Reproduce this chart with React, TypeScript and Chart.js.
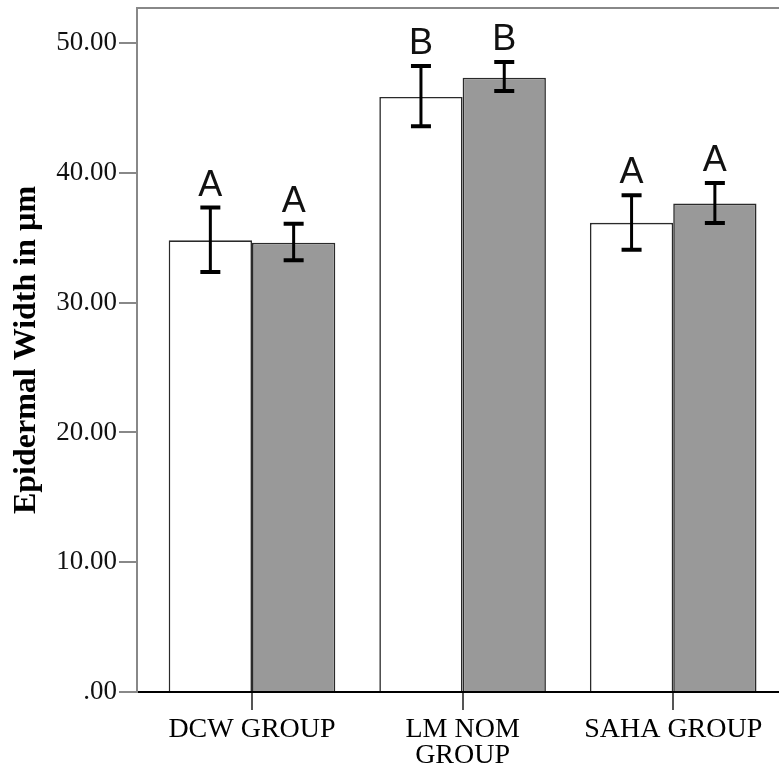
import { useEffect, useRef } from "react";
import { Chart, registerables } from "chart.js";

Chart.register(...registerables);

const categories: string[][] = [["DCW GROUP"], ["LM NOM", "GROUP"], ["SAHA GROUP"]];
const whiteMeans = [34.8, 45.85, 36.15];
const whiteLow = [32.36, 43.58, 34.08];
const whiteHigh = [37.32, 48.23, 38.27];
const grayMeans = [34.62, 47.33, 37.63];
const grayLow = [33.26, 46.3, 36.13];
const grayHigh = [36.08, 48.54, 39.21];
const whiteLetters = ["A", "B", "A"];
const grayLetters = ["A", "B", "A"];
const yTicks = [0, 10, 20, 30, 40, 50];
const yMax = 52.7;

const SERIF = "'Liberation Serif', 'Times New Roman', serif";

const errorPlugin = {
  id: "errorBarsAndLetters",
  afterDatasetsDraw(chart: any) {
    const ctx = chart.ctx;
    const y = chart.scales.y;
    const lows = [whiteLow, grayLow];
    const highs = [whiteHigh, grayHigh];
    const letters = [whiteLetters, grayLetters];
    chart.data.datasets.forEach((_ds: any, di: number) => {
      const meta = chart.getDatasetMeta(di);
      meta.data.forEach((el: any, i: number) => {
        const x = el.x;
        const yt = y.getPixelForValue(highs[di][i]);
        const yb = y.getPixelForValue(lows[di][i]);
        ctx.save();
        ctx.strokeStyle = "#000";
        ctx.lineWidth = 3;
        ctx.beginPath();
        ctx.moveTo(x, yt);
        ctx.lineTo(x, yb);
        ctx.stroke();
        ctx.lineWidth = 4;
        ctx.beginPath();
        ctx.moveTo(x - 10, yt);
        ctx.lineTo(x + 10, yt);
        ctx.moveTo(x - 10, yb);
        ctx.lineTo(x + 10, yb);
        ctx.stroke();
        ctx.font = "36px 'Liberation Sans', Arial, sans-serif";
        ctx.fillStyle = "#111";
        ctx.textAlign = "center";
        ctx.textBaseline = "alphabetic";
        ctx.fillText(letters[di][i], x, yt - 12);
        ctx.restore();
      });
    });
    const a = chart.chartArea;
    ctx.save();
    ctx.strokeStyle = "#888";
    ctx.lineWidth = 2;
    ctx.beginPath();
    ctx.moveTo(a.left, a.top);
    ctx.lineTo(a.right, a.top);
    ctx.lineTo(a.right, a.bottom);
    ctx.stroke();
    ctx.restore();
  },
};

export default function App() {
  const ref = useRef<HTMLCanvasElement | null>(null);
  useEffect(() => {
    if (!ref.current) return;
    const chart = new Chart(ref.current, {
      type: "bar",
      data: {
        datasets: [
          {
            label: "Group 1",
            data: whiteMeans.map((v, i) => ({ x: i, y: v })),
            backgroundColor: "#ffffff",
            borderColor: "#2a2a2a",
            borderWidth: 1.6,
            categoryPercentage: 0.791,
            barPercentage: 1,
          },
          {
            label: "Group 2",
            data: grayMeans.map((v, i) => ({ x: i, y: v })),
            backgroundColor: "#999999",
            borderColor: "#2a2a2a",
            borderWidth: 1.6,
            categoryPercentage: 0.791,
            barPercentage: 1,
          },
        ],
      } as any,
      options: {
        animation: false,
        responsive: true,
        maintainAspectRatio: false,
        layout: { padding: { top: 30, right: 32, bottom: 0, left: 0 } },
        plugins: { legend: { display: false }, tooltip: { enabled: false } },
        scales: {
          x: {
            type: "linear",
            min: -0.546,
            max: 2.545,
            offset: false,
            z: 1,
            grid: {
              display: true,
              offset: false,
              drawOnChartArea: false,
              drawTicks: true,
              tickLength: 18,
              color: "#555",
              lineWidth: 2,
            },
            border: { display: true, color: "#000", width: 2 },
            afterBuildTicks: (s: any) => {
              s.ticks = categories.map((_c, i) => ({ value: i }));
            },
            afterFit: (s: any) => {
              s.height = 86;
            },
            ticks: {
              autoSkip: false,
              maxRotation: 0,
              minRotation: 0,
              padding: 6,
              color: "#000",
              font: { family: SERIF, size: 28, lineHeight: 0.95 },
              callback: (v: any) => categories[v] ?? "",
            },
          },
          y: {
            min: 0,
            max: yMax,
            afterBuildTicks: (s: any) => {
              s.ticks = yTicks.map((v) => ({ value: v }));
            },
            afterFit: (s: any) => {
              s.width = 137;
            },
            grid: {
              drawOnChartArea: false,
              drawTicks: true,
              tickLength: 18,
              color: "#888",
              lineWidth: 2,
            },
            border: { display: true, color: "#888", width: 2 },
            ticks: {
              padding: 2,
              color: "#111",
              font: { family: SERIF, size: 27 },
              callback: (v: any) => (Number(v) === 0 ? ".00" : Number(v).toFixed(2)),
            },
            title: {
              display: true,
              text: "Epidermal Width in µm",
              color: "#000",
              font: { family: SERIF, size: 32, weight: "bold" },
              padding: { top: 8, bottom: 0 },
            },
          },
        },
      } as any,
      plugins: [errorPlugin],
    });
    return () => chart.destroy();
  }, []);

  return (
    <div
      style={{
        position: "fixed",
        left: 0,
        top: 0,
        width: 779,
        height: 769,
        overflow: "hidden",
        background: "#fff",
      }}
    >
      <div style={{ position: "absolute", left: 0, top: -22, width: 820, height: 800 }}>
        <canvas ref={ref} />
      </div>
    </div>
  );
}
